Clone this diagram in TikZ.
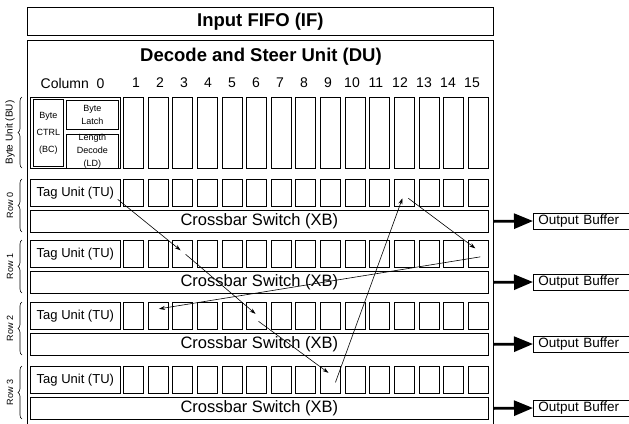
\documentclass[tikz,border=0pt]{standalone}
\usepackage{fontspec}
\setmainfont{Liberation Sans}
\usetikzlibrary{arrows.meta,positioning,calc,decorations.pathreplacing}
\newcommand{\Fs}[2]{\fontsize{#1}{#2}\selectfont}
\tikzset{
  unit/.style={draw, line width=0.7pt, inner sep=0pt, anchor=north west},
  cell/.style={unit, minimum width=20pt, minimum height=27pt},
  bucell/.style={unit, minimum width=20pt, minimum height=71pt},
  tagbox/.style={unit, minimum width=90pt, minimum height=27pt, font=\Fs{13}{14}},
  xbar/.style={unit, minimum width=458pt, minimum height=22pt, font=\Fs{16.5}{17}},
  obuf/.style={draw, line width=0.7pt, anchor=west, text width=100pt, align=left,
    inner xsep=5pt, inner ysep=0pt, minimum height=16pt, font=\Fs{13.5}{14}},
  title/.style={font=\bfseries\Fs{18.5}{19}},
  collbl/.style={font=\Fs{14}{15}},
  sidelbl/.style={rotate=90, font=\Fs{9}{10}},
  brace/.style={decorate, decoration={brace, amplitude=4pt}, line width=0.6pt},
  flow/.style={-{Stealth[length=6pt,width=4pt]}, line width=0.6pt},
  outarrow/.style={-{Triangle[length=19pt,width=15pt]}, line width=2.8pt}
}
\begin{document}
\begin{tikzpicture}[x=1pt,y=-1pt]
  \useasboundingbox (0,0) rectangle (629,423);
  \clip (0,0) rectangle (629,423);
  \node[unit, minimum width=466pt, minimum height=28pt, title] (if) at (27,7) {Input FIFO (IF)};
  \draw[line width=1pt] (27,430) |- (493,40) -- (493,430);
  \node[title] (du) at (261,57) {Decode and Steer Unit (DU)};
  \node[collbl, anchor=east] (col0) at (108,83) {Column\ \ 0};
  \foreach \c in {1,...,15}
    \node[collbl] (col\c) at ({136+24*(\c-1)},83) {\c};

  % byte unit
  \node[unit, minimum width=90pt, minimum height=71pt] (bu0) at (30,97) {};
  \node[unit, minimum width=30pt, minimum height=67pt, align=center, font=\Fs{9}{17}] (bc) at (33,99) {Byte\\CTRL\\(BC)};
  \node[unit, minimum width=52pt, minimum height=29pt, align=center, font=\Fs{9}{13}] (bl) at (66,100) {Byte\\Latch};
  \node[unit, minimum width=52pt, minimum height=32pt, align=center, font=\Fs{9}{13}] (ld) at (66,134) {Length\\Decode\\(LD)};
  \foreach \c in {1,...,15}
    \node[bucell] (bu\c) at ({123+24.64*(\c-1)},97) {};
  \draw[brace] (22,168) -- (22,97);
  \node[sidelbl, font=\Fs{10}{11}] (bulbl) at (10,132.5) {Byte Unit (BU)};

  % rows
  \foreach \r/\y in {0/179,1/240,2/302,3/366} {
    \node[tagbox] (tu\r) at (30,\y) {Tag Unit (TU)};
    \foreach \c in {1,...,15}
      \node[cell] (c\r-\c) at ({123+24.64*(\c-1)},\y) {};
    \node[xbar] (xb\r) at (30,\y+31) {Crossbar Switch (XB)};
    \node[obuf] (ob\r) at (533,\y+42) {Output Buffer};
    \draw[outarrow] ([xshift=5pt]xb\r.east) -- (ob\r.west);
    \draw[brace] (22,\y+53) -- (22,\y);
    \node[sidelbl] (rowlbl\r) at (10,\y+26.5) {Row \r};
  }

  \draw[flow] ($(tu0.east)+(-3,6.5)$) -- ($(c1-3.center)+(-2,-3.5)$);
  \draw[flow] ($(c1-3.center)+(3,0.5)$) -- ($(c2-6.center)+(-1,-2)$);
  \draw[flow] ($(c2-6.center)+(2,5.5)$) -- ($(c3-9.center)+(-2,-7)$);
  \draw[flow] ($(c3-9.center)+(5,2.5)$) -- ($(c0-12.center)+(-2,5.5)$);
  \draw[flow] ($(c0-12.center)+(4,5.5)$) -- ($(c1-15.center)+(-3,-5.5)$);
  \draw[flow] ($(c1-15.center)+(2,3)$) -- ($(c2-2.center)+(1,-7)$);
\end{tikzpicture}
\end{document}
